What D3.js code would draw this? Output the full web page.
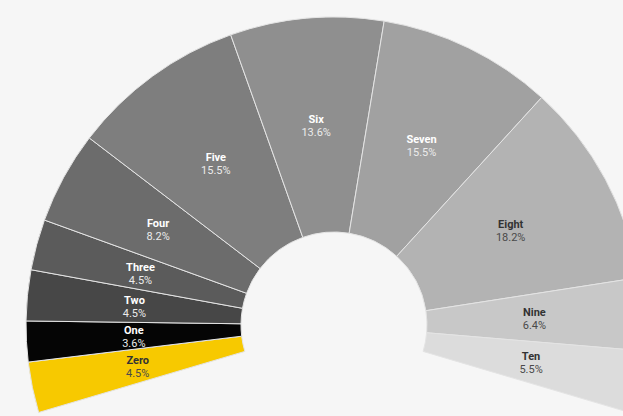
<!DOCTYPE html>
<html>
<head>
<meta charset="utf-8">
<script src="https://cdn.jsdelivr.net/npm/d3@7"></script>
<style>
  html, body { margin: 0; padding: 0; background: #f6f6f6; }
  svg { display: block; }
</style>
</head>
<body>
<svg id="chart" width="623" height="416"></svg>
<script>
// Share of each category (percent)
const categories = ["Zero", "One", "Two", "Three", "Four", "Five", "Six", "Seven", "Eight", "Nine", "Ten"];
const shares = [4.5, 3.6, 4.5, 4.5, 8.2, 15.5, 13.6, 15.5, 18.2, 6.4, 5.5];
const fills = ["#f7c900", "#050505", "#474747", "#5b5b5b", "#6c6c6c", "#7e7e7e", "#8f8f8f", "#a1a1a1", "#b3b3b3", "#c8c8c8", "#dcdcdc"];
const darkText = ["Zero", "Eight", "Nine", "Ten"];

const width = 623, height = 416;
const cx = 334, cy = 325;
const innerR = 93, outerR = 308;
const sweep = 106.5 * Math.PI / 180;

const svg = d3.select("#chart");
svg.append("rect").attr("width", width).attr("height", height).attr("fill", "#f6f6f6");

const data = categories.map((c, i) => ({ name: c, value: shares[i], fill: fills[i] }));

const pie = d3.pie()
  .sort(null)
  .value(d => d.value)
  .startAngle(-sweep)
  .endAngle(sweep);

const arc = d3.arc().innerRadius(innerR).outerRadius(outerR);

const g = svg.append("g").attr("transform", `translate(${cx},${cy})`);
const arcs = pie(data);

g.selectAll("path.slice")
  .data(arcs)
  .join("path")
  .attr("class", "slice")
  .attr("d", arc)
  .attr("fill", d => d.data.fill)
  .attr("stroke", "#e4e4e4")
  .attr("stroke-width", 1);

const labels = g.selectAll("g.label")
  .data(arcs)
  .join("g")
  .attr("class", "label")
  .attr("transform", d => `translate(${arc.centroid(d)})`)
  .attr("font-family", "Roboto, 'Noto Sans', sans-serif")
  .attr("font-size", 11)
  .attr("text-anchor", "middle");

labels.append("text")
  .attr("y", -2)
  .attr("font-weight", "bold")
  .attr("fill", d => darkText.includes(d.data.name) ? "#333333" : "#ffffff")
  .text(d => d.data.name);

labels.append("text")
  .attr("y", 11)
  .attr("fill", d => darkText.includes(d.data.name) ? "#4a4a4a" : "#ebebeb")
  .text(d => d3.format(".1f")(d.data.value) + "%");
</script>
</body>
</html>
